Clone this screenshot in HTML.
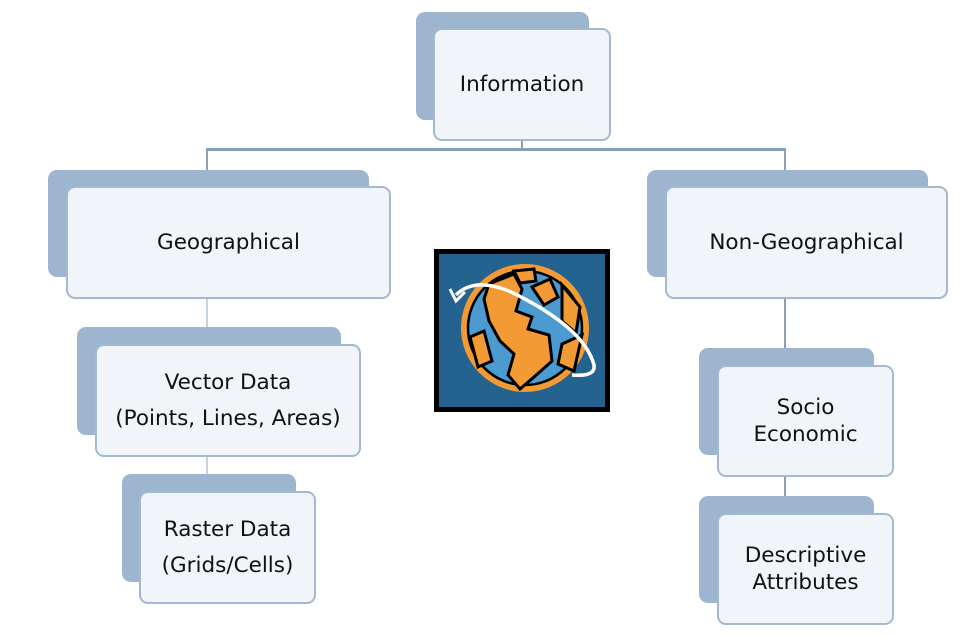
<!DOCTYPE html>
<html><head><style>
body{margin:0;background:#fff;width:973px;height:637px;position:relative;overflow:hidden;font-family:"DejaVu Sans","Liberation Sans",sans-serif;}
.b{position:absolute;background:#9db5cf;border-radius:9px;}
.f{position:absolute;background:#f1f4f8;border:2px solid #a3b9d1;border-radius:9px;display:flex;align-items:center;justify-content:center;text-align:center;font-size:21.5px;line-height:27px;color:#111;box-sizing:border-box;}
.l{position:absolute;background:#8ba0b8;}
</style></head><body>
<div class="l" style="left:207px;top:148px;width:579px;height:3px"></div>
<div class="l" style="left:521px;top:138px;width:2px;height:12px"></div>
<div class="l" style="left:206px;top:148px;width:2px;height:40px"></div>
<div class="l" style="left:784px;top:148px;width:2px;height:40px"></div>
<div class="l" style="left:206px;top:296px;width:2px;height:50px;background:#c5d2e0"></div>
<div class="l" style="left:206px;top:454px;width:2px;height:40px;background:#c5d2e0"></div>
<div class="l" style="left:784px;top:296px;width:2px;height:70px"></div>
<div class="l" style="left:784px;top:474px;width:2px;height:40px"></div>

<div class="b" style="left:416px;top:12px;width:173px;height:108px"></div>
<div class="f" style="left:433px;top:28px;width:178px;height:113px">Information</div>

<div class="b" style="left:48px;top:170px;width:321px;height:107px"></div>
<div class="f" style="left:66px;top:186px;width:325px;height:113px">Geographical</div>

<div class="b" style="left:647px;top:170px;width:281px;height:107px"></div>
<div class="f" style="left:665px;top:186px;width:283px;height:113px">Non-Geographical</div>

<div class="b" style="left:77px;top:327px;width:264px;height:108px"></div>
<div class="f" style="left:95px;top:344px;width:266px;height:113px;line-height:36px">Vector Data<br>(Points, Lines, Areas)</div>

<div class="b" style="left:122px;top:474px;width:174px;height:108px"></div>
<div class="f" style="left:139px;top:491px;width:177px;height:113px;line-height:36px">Raster Data<br>(Grids/Cells)</div>

<div class="b" style="left:699px;top:348px;width:175px;height:107px"></div>
<div class="f" style="left:717px;top:365px;width:177px;height:112px">Socio<br>Economic</div>

<div class="b" style="left:699px;top:496px;width:175px;height:107px"></div>
<div class="f" style="left:717px;top:513px;width:177px;height:112px">Descriptive<br>Attributes</div>

<svg style="position:absolute;left:434px;top:249px" width="176" height="163" viewBox="0 0 176 163">
<rect x="0" y="0" width="176" height="163" fill="#000"/>
<rect x="5" y="5" width="166" height="153" fill="#24628f"/>
<circle cx="91" cy="79" r="61" fill="#4b9ad0" stroke="#f29a34" stroke-width="6"/>
<circle cx="91" cy="79" r="57" fill="none" stroke="#000" stroke-width="2.5"/>
<path d="M55 35 L80 25 L88 40 L82 62 L98 68 L94 80 L115 86 L118 112 L100 128 L86 140 L74 126 L80 105 L66 92 L55 72 L50 50 Z" fill="#f29a34" stroke="#000" stroke-width="3"/>
<path d="M98 38 L116 30 L124 48 L110 56 Z" fill="#f29a34" stroke="#000" stroke-width="3"/>
<path d="M80 22 L100 20 L102 32 L86 34 Z" fill="#f29a34" stroke="#000" stroke-width="3"/>
<path d="M128 36 L146 58 L142 84 L128 72 Z" fill="#f29a34" stroke="#000" stroke-width="3"/>
<path d="M128 95 L148 86 L140 122 L124 115 Z" fill="#f29a34" stroke="#000" stroke-width="3"/>
<path d="M36 88 L50 82 L58 112 L44 118 Z" fill="#f29a34" stroke="#000" stroke-width="3"/>
<path d="M22 46 Q40 28 75 42 Q150 78 160 116 Q162 128 138 126" fill="none" stroke="#fff" stroke-width="3.5"/>
<path d="M16 40 L22 52 L31 43" fill="none" stroke="#fff" stroke-width="3"/>
</svg>
</body></html>
